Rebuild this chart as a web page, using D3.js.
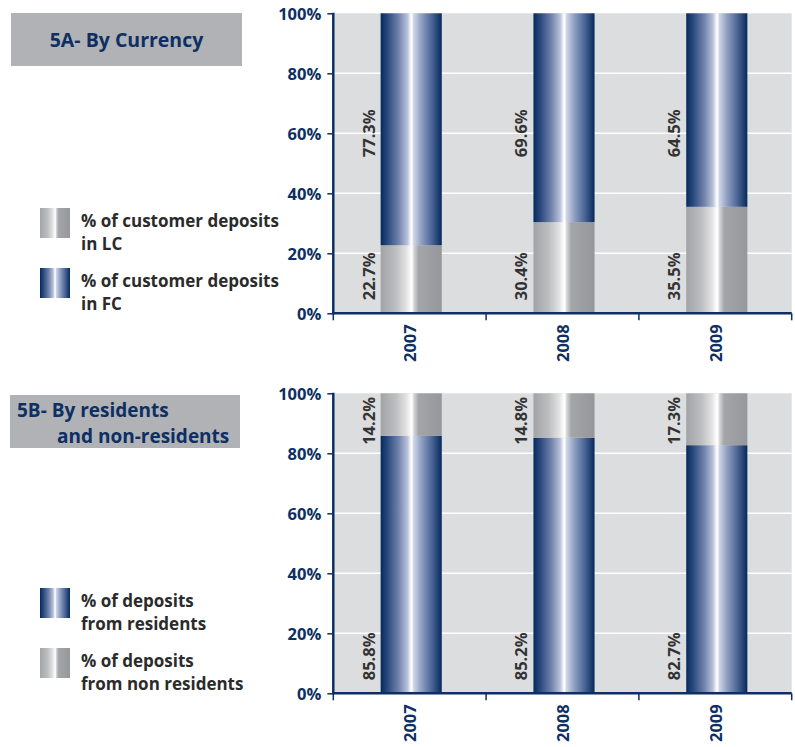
<!DOCTYPE html>
<html>
<head>
<meta charset="utf-8">
<script src="https://cdn.jsdelivr.net/npm/d3@7/dist/d3.min.js"></script>
<style>
  html, body { margin: 0; padding: 0; background: #ffffff; }
  svg { display: block; }
  text { font-family: "Open Sans", "DejaVu Sans", sans-serif; }
</style>
</head>
<body>
<div id="chart"></div>
<script>
// ---- data ----
const years = ["2007", "2008", "2009"];
const depositsLC = [22.7, 30.4, 35.5];
const depositsFC = [77.3, 69.6, 64.5];
const fromResidents = [85.8, 85.2, 82.7];
const fromNonResidents = [14.2, 14.8, 17.3];
const yTicks = [0, 20, 40, 60, 80, 100];

const W = 795, H = 747;
const NAVY = "#0d2f63";
const TEXT = "#2b2b2b";

const svg = d3.select("#chart").append("svg")
  .attr("width", W).attr("height", H)
  .attr("viewBox", `0 0 ${W} ${H}`);

svg.append("rect").attr("width", W).attr("height", H).attr("fill", "#ffffff");

// ---- gradients (metallic look of the bars) ----
const defs = svg.append("defs");
function gradient(id, stops) {
  const g = defs.append("linearGradient").attr("id", id)
    .attr("x1", "0%").attr("x2", "100%").attr("y1", "0%").attr("y2", "0%");
  stops.forEach(([o, c]) => g.append("stop").attr("offset", o).attr("stop-color", c));
}
gradient("gBlue", [
  ["0%", "#06295c"], ["12%", "#2c4c80"], ["30%", "#7485ad"], ["44%", "#b9c3db"],
  ["49%", "#f4f6fb"], ["51%", "#ffffff"], ["54%", "#cfd6e7"], ["66%", "#93a2c3"],
  ["84%", "#4a6494"], ["100%", "#06295c"]
]);
gradient("gGray", [
  ["0%", "#a2a3a6"], ["25%", "#bdbec0"], ["42%", "#e2e2e3"], ["49%", "#fbfbfb"],
  ["51%", "#ffffff"], ["55%", "#d2d2d4"], ["62%", "#a4a5a8"], ["100%", "#96979a"]
]);

// ---- one stacked 100% column chart ----
function drawPanel(opts) {
  const { top, bottomSeries, topSeries, bottomFill, topFill, topLabelAt } = opts;
  const left = 333.3, right = 791.7, plotTop = top, plotBottom = top + 300;

  const x = d3.scaleBand().domain(years).range([left, right]).padding(0);
  const y = d3.scaleLinear().domain([0, 100]).range([plotBottom, plotTop]);
  const barW = x.bandwidth() * 0.4;
  const barX = d => x(d) + (x.bandwidth() - barW) / 2 + 1.5;

  const g = svg.append("g");

  // plot background
  g.append("rect")
    .attr("x", left).attr("y", plotTop)
    .attr("width", right - left).attr("height", plotBottom - plotTop)
    .attr("fill", "#dcdddf");

  // gridlines
  g.selectAll(".grid").data(yTicks.filter(t => t > 0 && t < 100)).enter()
    .append("line")
    .attr("x1", left).attr("x2", right)
    .attr("y1", d => y(d)).attr("y2", d => y(d))
    .attr("stroke", "#ffffff").attr("stroke-width", 1.5);

  // bars: bottom segment
  g.selectAll(".barB").data(years).enter().append("rect")
    .attr("x", d => barX(d)).attr("width", barW)
    .attr("y", (d, i) => y(bottomSeries[i]))
    .attr("height", (d, i) => y(0) - y(bottomSeries[i]))
    .attr("fill", `url(#${bottomFill})`);

  // bars: top segment
  g.selectAll(".barT").data(years).enter().append("rect")
    .attr("x", d => barX(d)).attr("width", barW)
    .attr("y", (d, i) => y(bottomSeries[i] + topSeries[i]))
    .attr("height", (d, i) => y(bottomSeries[i]) - y(bottomSeries[i] + topSeries[i]))
    .attr("fill", `url(#${topFill})`);

  // value labels, rotated, left of each bar
  const lab = (series, yPos, anchor) => g.selectAll(null).data(years).enter().append("text")
    .attr("transform", (d, i) => `translate(${barX(d) - 6},${yPos(i)}) rotate(-90)`)
    .attr("text-anchor", anchor)
    .attr("font-size", 16.5).attr("font-weight", 700).attr("fill", "#333333")
    .text((d, i) => series[i].toFixed(1) + "%");
  lab(bottomSeries, () => plotBottom - 13, "start");
  lab(topSeries, () => y(topLabelAt), "middle");

  // y axis
  const yAxis = g.append("g")
    .attr("transform", `translate(${left},0)`)
    .call(d3.axisLeft(y).tickValues(yTicks).tickFormat(d => d + "%").tickSize(6).tickPadding(6));
  yAxis.select(".domain").attr("stroke", NAVY).attr("stroke-width", 2.5)
    .attr("d", `M0,${plotTop - 0.5}V${plotBottom + 1}`);
  yAxis.selectAll(".tick line").attr("stroke", NAVY).attr("stroke-width", 1.5);
  yAxis.selectAll(".tick text")
    .attr("fill", NAVY).attr("font-size", 16.5).attr("font-weight", 700)
    .attr("font-family", "'Open Sans', sans-serif").attr("dy", "0.4em");

  // x axis: baseline, boundary ticks, rotated year labels
  g.append("line")
    .attr("x1", left - 1).attr("x2", right)
    .attr("y1", plotBottom).attr("y2", plotBottom)
    .attr("stroke", NAVY).attr("stroke-width", 2.5);
  const bounds = years.map(d => x(d)).concat([right]);
  g.selectAll(null).data(bounds).enter().append("line")
    .attr("x1", d => d).attr("x2", d => d)
    .attr("y1", plotBottom).attr("y2", plotBottom + 7)
    .attr("stroke", NAVY).attr("stroke-width", 1.5);
  g.selectAll(null).data(years).enter().append("text")
    .attr("transform", d => `translate(${x(d) + x.bandwidth() / 2 + 6.5},${plotBottom + 11}) rotate(-90)`)
    .attr("text-anchor", "end")
    .attr("font-size", 16.5).attr("font-weight", 700).attr("fill", NAVY)
    .text(d => d);
}

// ---- titles ----
function titleBox(x0, y0, w, h) {
  svg.append("rect").attr("x", x0).attr("y", y0).attr("width", w).attr("height", h)
    .attr("fill", "#b1b2b5");
}
titleBox(11, 13, 231, 53);
svg.append("text").attr("x", 126.5).attr("y", 47).attr("text-anchor", "middle")
  .attr("font-size", 19.5).attr("font-weight", 700).attr("fill", NAVY)
  .text("5A- By Currency");

titleBox(10, 395, 230, 53);
const titleB = svg.append("text")
  .attr("font-size", 19).attr("font-weight", 700).attr("fill", NAVY);
titleB.append("tspan").attr("x", 17).attr("y", 416.5).text("5B- By residents");
titleB.append("tspan").attr("x", 57).attr("y", 442.5).text("and non-residents");

// ---- legends ----
function legendItem(y0, fill, line1, line2) {
  svg.append("rect").attr("x", 40).attr("y", y0).attr("width", 30).attr("height", 30)
    .attr("fill", `url(#${fill})`);
  const t = svg.append("text")
    .attr("font-size", 17).attr("font-weight", 700).attr("fill", TEXT);
  t.append("tspan").attr("x", 81).attr("y", y0 + 19).text(line1);
  t.append("tspan").attr("x", 81).attr("y", y0 + 42).text(line2);
}
legendItem(208, "gGray", "% of customer deposits", "in LC");
legendItem(268, "gBlue", "% of customer deposits", "in FC");
legendItem(588, "gBlue", "% of deposits", "from residents");
legendItem(648, "gGray", "% of deposits", "from non residents");

// ---- panels ----
drawPanel({
  top: 13.3, bottomSeries: depositsLC, topSeries: depositsFC,
  bottomFill: "gGray", topFill: "gBlue", topLabelAt: 60
});
drawPanel({
  top: 393.3, bottomSeries: fromResidents, topSeries: fromNonResidents,
  bottomFill: "gBlue", topFill: "gGray", topLabelAt: 90.8
});
</script>
</body>
</html>
